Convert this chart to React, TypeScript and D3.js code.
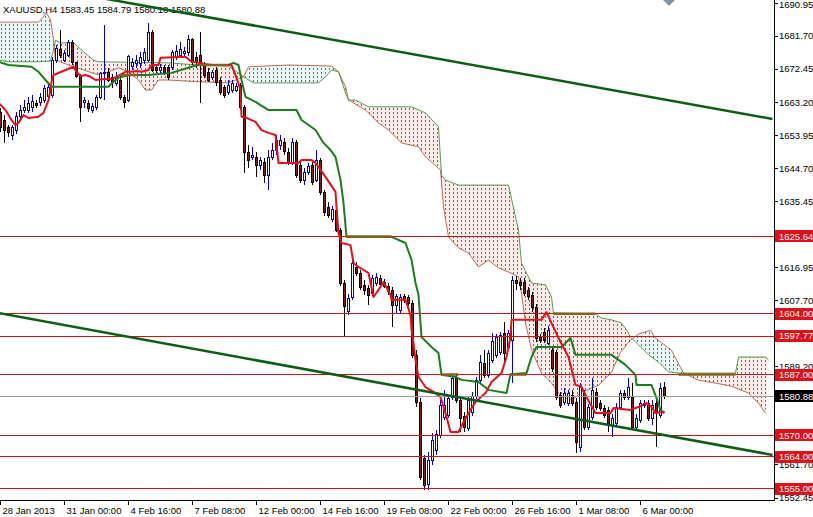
import React from "react";
import * as d3 from "d3";

const W = 813;
const H = 517;
const PLOT_R = 774;
const PLOT_B = 500;

const title = "XAUUSD,H4  1583.45 1584.79 1580.18 1580.88";

const candleOpen = [
  1660.2, 1658.2, 1656.0, 1654.0, 1655.4, 1659.3, 1661.0, 1661.0, 1661.6, 1662.7,
  1663.0, 1663.8, 1664.9, 1665.2, 1675.0, 1677.8, 1675.0, 1676.4, 1680.0, 1674.2,
  1670.5, 1663.0, 1662.7, 1661.0, 1661.6, 1664.6, 1671.1, 1671.6, 1670.0, 1668.3,
  1669.4, 1664.6, 1663.8, 1673.3, 1673.9, 1673.9, 1675.0, 1675.0, 1682.8, 1673.0,
  1672.2, 1672.8, 1673.0, 1673.0, 1675.8, 1676.4, 1676.7, 1677.0, 1680.6, 1675.8,
  1676.4, 1673.6, 1671.6, 1670.0, 1672.2, 1669.4, 1667.2, 1666.0, 1666.6, 1666.6,
  1668.0, 1661.8, 1649.2, 1647.6, 1647.8, 1645.6, 1646.4, 1642.8, 1647.8, 1649.8,
  1651.2, 1652.0, 1649.2, 1646.4, 1652.0, 1645.6, 1641.4, 1643.6, 1645.6, 1641.4,
  1647.0, 1637.8, 1633.8, 1630.5, 1633.0, 1627.4, 1612.6, 1604.7, 1608.6, 1617.0,
  1615.4, 1612.0, 1611.2, 1609.8, 1612.6, 1614.0, 1612.8, 1611.7, 1610.6, 1606.4,
  1605.0, 1608.9, 1608.6, 1607.0, 1592.4, 1579.2, 1563.6, 1556.3, 1563.0, 1565.8,
  1570.0, 1575.0, 1575.6, 1580.6, 1586.0, 1579.8, 1575.3, 1572.0, 1576.4, 1580.9,
  1585.4, 1590.2, 1586.8, 1591.0, 1592.4, 1593.2, 1598.6, 1594.6, 1596.6, 1613.4,
  1612.8, 1612.8, 1610.6, 1609.2, 1605.8, 1597.4, 1598.8, 1595.8, 1593.8, 1593.2,
  1581.2, 1579.2, 1579.0, 1581.2, 1579.2, 1566.6, 1581.8, 1572.2, 1575.0, 1582.0,
  1579.0, 1577.6, 1577.0, 1572.8, 1573.4, 1577.8, 1581.8, 1580.6, 1580.6, 1572.2,
  1574.2, 1578.4, 1579.0, 1574.8, 1579.0, 1575.6, 1583.45,
];
const candleHigh = [
  1661.6, 1659.6, 1656.8, 1656.8, 1660.4, 1662.4, 1663.8, 1664.6, 1665.2, 1663.8,
  1665.8, 1668.0, 1668.8, 1675.8, 1679.2, 1683.4, 1677.8, 1680.6, 1680.6, 1674.4,
  1671.1, 1664.6, 1663.8, 1663.0, 1665.2, 1671.6, 1684.8, 1672.8, 1671.1, 1671.6,
  1670.8, 1665.2, 1676.4, 1675.6, 1676.4, 1677.2, 1678.4, 1685.4, 1683.4, 1673.9,
  1673.9, 1673.6, 1673.6, 1677.8, 1679.2, 1680.0, 1678.6, 1682.0, 1681.2, 1677.2,
  1682.8, 1674.4, 1672.8, 1672.2, 1673.0, 1670.2, 1668.0, 1669.4, 1669.4, 1668.6,
  1668.6, 1662.4, 1651.2, 1650.6, 1649.2, 1647.8, 1647.6, 1649.8, 1651.8, 1654.0,
  1654.0, 1653.2, 1650.4, 1653.2, 1652.6, 1647.0, 1644.8, 1646.2, 1646.4, 1649.8,
  1647.6, 1638.6, 1635.2, 1634.1, 1633.8, 1628.0, 1613.4, 1609.5, 1619.0, 1618.4,
  1616.2, 1613.4, 1612.0, 1614.8, 1615.4, 1614.8, 1613.7, 1612.6, 1611.4, 1609.5,
  1609.5, 1609.5, 1609.2, 1607.8, 1593.8, 1580.4, 1564.4, 1565.2, 1570.6, 1571.4,
  1579.8, 1582.6, 1581.2, 1586.8, 1586.8, 1580.6, 1576.4, 1580.6, 1582.0, 1586.2,
  1592.4, 1593.8, 1593.8, 1598.6, 1598.3, 1598.8, 1601.6, 1599.4, 1614.5, 1614.5,
  1614.0, 1614.0, 1611.4, 1610.0, 1606.7, 1598.3, 1600.0, 1600.5, 1594.6, 1593.8,
  1582.0, 1583.2, 1582.6, 1582.6, 1580.4, 1584.6, 1582.6, 1578.7, 1586.0, 1583.2,
  1579.8, 1578.4, 1577.8, 1575.9, 1579.0, 1582.6, 1582.6, 1586.0, 1584.6, 1575.9,
  1579.8, 1579.8, 1579.8, 1579.8, 1579.8, 1584.6, 1584.79,
];
const candleLow = [
  1654.8, 1651.8, 1653.4, 1652.6, 1654.3, 1658.2, 1660.2, 1660.2, 1660.4, 1661.6,
  1662.1, 1663.0, 1664.4, 1664.4, 1674.2, 1675.6, 1674.4, 1675.8, 1673.6, 1670.0,
  1657.6, 1661.6, 1660.4, 1660.2, 1661.0, 1664.1, 1663.8, 1668.8, 1667.2, 1667.7,
  1663.8, 1661.6, 1663.2, 1672.2, 1672.8, 1672.8, 1673.9, 1674.4, 1671.6, 1671.4,
  1671.4, 1670.8, 1669.4, 1672.2, 1675.0, 1675.6, 1675.8, 1676.1, 1673.6, 1672.8,
  1663.0, 1670.0, 1668.8, 1669.4, 1667.7, 1665.2, 1664.4, 1665.2, 1665.8, 1666.0,
  1661.0, 1643.4, 1644.8, 1647.0, 1642.2, 1644.2, 1640.6, 1638.6, 1647.0, 1648.4,
  1649.8, 1648.4, 1645.6, 1645.6, 1642.0, 1640.6, 1640.0, 1642.8, 1640.0, 1640.8,
  1637.2, 1631.3, 1630.8, 1629.6, 1626.8, 1611.7, 1597.4, 1603.6, 1607.8, 1614.5,
  1610.6, 1609.2, 1606.4, 1608.9, 1611.7, 1611.4, 1611.2, 1609.2, 1600.2, 1604.2,
  1604.2, 1607.0, 1606.1, 1591.6, 1577.8, 1557.4, 1554.6, 1554.6, 1561.6, 1564.4,
  1569.2, 1574.2, 1574.8, 1579.8, 1579.0, 1570.8, 1570.8, 1571.1, 1575.3, 1580.1,
  1584.6, 1586.0, 1586.0, 1590.2, 1591.6, 1592.4, 1590.2, 1593.8, 1584.6, 1610.6,
  1610.6, 1608.9, 1607.8, 1604.4, 1596.0, 1595.8, 1595.8, 1595.2, 1587.6, 1579.8,
  1577.6, 1578.4, 1578.1, 1578.1, 1565.0, 1565.2, 1571.4, 1571.4, 1574.2, 1577.0,
  1576.7, 1574.8, 1570.8, 1569.4, 1572.5, 1577.0, 1579.8, 1579.8, 1571.4, 1571.4,
  1573.4, 1577.6, 1573.9, 1572.8, 1566.6, 1574.8, 1580.18,
];
const candleClose = [
  1656.0, 1655.4, 1654.8, 1656.0, 1659.3, 1661.0, 1661.8, 1662.7, 1663.5, 1662.4,
  1664.6, 1666.9, 1667.2, 1675.0, 1678.1, 1676.4, 1676.7, 1679.8, 1674.2, 1670.5,
  1661.8, 1663.8, 1661.3, 1662.1, 1664.6, 1671.1, 1671.6, 1669.4, 1668.8, 1670.2,
  1664.6, 1663.0, 1676.1, 1674.4, 1675.0, 1675.6, 1677.2, 1682.6, 1672.2, 1672.2,
  1672.8, 1671.6, 1670.2, 1677.0, 1677.5, 1677.8, 1677.5, 1680.6, 1674.4, 1674.2,
  1673.6, 1670.8, 1669.4, 1671.4, 1668.8, 1666.0, 1665.2, 1668.0, 1668.3, 1667.7,
  1661.8, 1649.0, 1647.0, 1648.4, 1645.6, 1647.0, 1642.8, 1647.8, 1649.8, 1652.6,
  1652.6, 1649.5, 1646.4, 1652.0, 1642.8, 1641.4, 1643.6, 1645.3, 1640.8, 1647.0,
  1637.8, 1632.4, 1631.6, 1633.3, 1627.4, 1612.6, 1606.1, 1608.4, 1618.2, 1615.4,
  1611.4, 1610.6, 1609.2, 1614.0, 1614.2, 1612.3, 1611.7, 1610.3, 1606.4, 1608.9,
  1608.6, 1607.8, 1607.0, 1592.4, 1579.2, 1558.2, 1556.0, 1563.0, 1568.6, 1570.3,
  1578.4, 1578.4, 1580.4, 1586.0, 1579.8, 1574.8, 1572.2, 1579.8, 1580.9, 1585.4,
  1590.4, 1586.8, 1593.0, 1596.3, 1597.4, 1598.0, 1593.0, 1598.6, 1613.4, 1612.6,
  1612.0, 1609.8, 1608.9, 1605.8, 1597.2, 1596.6, 1596.6, 1599.4, 1588.8, 1580.6,
  1578.4, 1581.8, 1581.8, 1579.0, 1568.0, 1583.4, 1572.2, 1577.8, 1582.6, 1577.8,
  1577.6, 1575.6, 1573.4, 1574.8, 1577.8, 1581.8, 1580.6, 1583.4, 1572.2, 1574.8,
  1579.0, 1579.0, 1574.8, 1578.4, 1576.4, 1583.2, 1580.88,
];

const tenkan = [
  [-0.5, 1663.0], [1.25, 1661.0], [2.75, 1658.2], [3.75, 1656.8], [4.5, 1657.4], [5.75, 1659.6], [7, 1658.8],
  [9.5, 1659.1], [10.75, 1660.2], [12, 1663.8], [12.5, 1666.6], [12.75, 1668.9], [13.25, 1670.8], [16.25, 1672.2],
  [18.25, 1673.1], [19, 1671.7], [20, 1670.5], [21.25, 1670.8], [22.5, 1670.3], [23.75, 1669.4], [26.25, 1669.7],
  [27.75, 1669.7], [29, 1670.3], [31.25, 1671.7], [32.5, 1671.7], [34, 1671.9], [35.25, 1671.7], [37, 1672.2],
  [37.75, 1673.6], [39.5, 1673.6], [40, 1675.6], [46.25, 1675.9], [47.75, 1674.5], [49.5, 1674.2], [52.75, 1673.6],
  [57.75, 1673.6], [58.75, 1670.8], [60, 1666.6], [60.25, 1659.1], [61.5, 1658.8], [63.75, 1657.7], [65.25, 1655.4],
  [67, 1654.6], [68.75, 1654.0], [69.5, 1646.2], [74.5, 1646.2], [75.25, 1647.0], [77.75, 1647.0], [78.75, 1646.2],
  [81.25, 1642.3], [83.75, 1638.1], [84, 1633.9], [84.5, 1626.6], [85.25, 1623.8], [87.5, 1623.2], [88.25, 1618.2],
  [89.5, 1617.1], [92, 1615.4], [93.25, 1608.7], [94.5, 1610.7], [95.75, 1612.9], [97.5, 1609.3], [97.75, 1607.9],
  [101.25, 1607.9], [102.5, 1603.7], [102.75, 1599.5], [103.25, 1595.8], [103.75, 1591.1], [104.5, 1586.3],
  [106.25, 1583.5], [108.75, 1581.8], [110, 1580.7], [111.25, 1576.2], [112.5, 1570.9], [114.5, 1570.9],
  [115.75, 1573.7], [117.5, 1577.1], [118.75, 1579.3], [121.25, 1581.8], [122.75, 1584.9], [125.25, 1587.4],
  [126.5, 1591.9], [127.5, 1597.5], [127.75, 1602.3], [135.25, 1602.3], [136.5, 1604.5], [137.75, 1601.4],
  [140, 1596.1], [142, 1591.9], [143.75, 1584.1], [145.25, 1583.5], [146.5, 1580.7], [148.75, 1576.2],
  [152.5, 1576.2], [153.25, 1577.6], [157.5, 1577.1], [159.5, 1577.9], [161.5, 1579.0], [162.75, 1577.9],
  [163.75, 1576.2], [166, 1576.5],
];

const kijun = [
  [-0.5, 1674.5], [2, 1673.6], [7.75, 1673.1], [9.5, 1671.7], [11.25, 1669.4], [12.75, 1667.5], [27, 1667.5],
  [28.25, 1668.9], [29.5, 1670.0], [32, 1670.8], [37, 1670.8], [42.75, 1671.4], [47.75, 1673.1], [49.5, 1673.6],
  [57, 1673.6], [58.25, 1674.2], [59.5, 1673.6], [60.25, 1669.4], [61.25, 1664.7], [63.75, 1663.3], [67, 1661.0],
  [74, 1661.0], [75.25, 1658.2], [78.75, 1655.4], [80.75, 1651.8], [82.5, 1649.8], [83.75, 1647.9], [85, 1641.4],
  [85.75, 1635.0], [86.5, 1625.5], [97.75, 1625.5], [101.25, 1623.8], [102.75, 1619.1], [103.75, 1612.6],
  [104.5, 1609.3], [105.25, 1597.5], [107.75, 1594.7], [109.5, 1593.0], [110.25, 1586.9], [113.75, 1586.3],
  [115.25, 1585.5], [119.5, 1584.9], [122, 1582.7], [126.5, 1581.8], [127.5, 1587.1], [131.5, 1587.4],
  [132.75, 1591.9], [134, 1594.7], [140.25, 1594.7], [142.5, 1597.2], [143.75, 1592.5], [152.75, 1592.5],
  [156.25, 1589.7], [158.75, 1586.9], [159, 1584.1], [162.75, 1584.1], [164, 1580.4], [165, 1577.1], [166, 1576.2],
];

const spanA = [
  [-0.5, 1685.6], [9.5, 1685.6], [10.5, 1686.8], [11.5, 1688.2], [12.5, 1686.2], [13.25, 1680.6], [13.75, 1675.0],
  [17, 1673.6], [20.75, 1672.2], [24.5, 1670.8], [27, 1671.7], [29.5, 1672.8], [32, 1671.7], [34.5, 1669.4],
  [36.25, 1666.6], [37.75, 1666.6], [39.5, 1669.4], [42, 1669.4], [49.5, 1668.9], [57, 1668.6], [60.75, 1670.3],
  [62, 1673.1], [72, 1673.6], [82.75, 1673.3], [84.5, 1671.7], [86.25, 1667.5], [87, 1663.8], [91.25, 1661.0],
  [94.5, 1657.4], [97, 1655.4], [100.25, 1651.8], [104.5, 1650.7], [106.25, 1647.9], [110, 1644.2],
  [110.75, 1633.9], [112, 1625.5], [114.5, 1622.4], [117, 1621.0], [119.5, 1617.1], [122, 1619.0],
  [124.5, 1616.8], [127, 1615.7], [129.5, 1614.3], [130.25, 1609.8], [131.25, 1601.4], [132.75, 1593.9],
  [135.25, 1587.4], [137.75, 1584.6], [140.25, 1580.7], [142.75, 1579.8], [145.25, 1582.0], [149.5, 1584.0],
  [152.75, 1587.6], [155, 1593.2], [157.5, 1596.6], [159.5, 1598.3], [162.5, 1599.4], [163.75, 1597.2],
  [167.75, 1593.8], [170.75, 1587.4], [174.5, 1585.4], [178.75, 1584.6], [182.75, 1583.7], [187, 1581.8],
  [189.5, 1579.0], [191.25, 1576.2],
];

const spanB = [
  [-0.5, 1675.0], [2, 1674.5], [9.5, 1674.5], [12.5, 1674.7], [13.25, 1677.8], [13.75, 1680.6], [15, 1679.8],
  [18.25, 1679.8], [20.75, 1677.3], [23.25, 1675.0], [24.5, 1674.5], [42, 1674.2], [49.5, 1673.6], [57, 1673.3],
  [60.75, 1670.3], [63.25, 1668.6], [79.5, 1668.6], [81.25, 1670.3], [82.75, 1672.2], [84.5, 1671.7],
  [86.25, 1665.8], [87, 1663.8], [88.75, 1663.8], [92, 1661.9], [102.75, 1661.9], [106.25, 1660.2],
  [109.5, 1656.3], [110.25, 1642.8], [111.25, 1641.4], [114.5, 1640.0], [127, 1640.0], [129.5, 1627.4],
  [130.25, 1618.2], [132.75, 1612.6], [136.25, 1612.1], [137.75, 1608.7], [138.25, 1604.2], [148.75, 1604.0],
  [150.25, 1602.8], [152.75, 1602.3], [155.25, 1601.4], [156.5, 1599.5], [157.5, 1597.5], [159.5, 1595.3],
  [162, 1592.5], [164.5, 1590.5], [167, 1587.7], [169.5, 1587.4], [183.75, 1587.4], [184.5, 1591.9],
  [191.25, 1591.9], [192, 1591.1],
];

const upperTrend = [[20, 1693.4], [193, 1658.5]];
const lowerTrend = [[-0.5, 1604.2], [193, 1564.5]];

// where the level lines run on top of the green lines (brownish overlap)
const overlapStart = [29.5, 49.5, 86.5, 110.25, 127.5, 138.25, 169.5];
const overlapEnd = [34.5, 57, 97.75, 114.5, 131.5, 148.75, 183.75];
const overlapPrice = [1670.8, 1673.6, 1625.64, 1587.0, 1587.0, 1604.0, 1587.0];

const levelPrices = [1625.64, 1604.0, 1597.77, 1587.0, 1570.0, 1564.0, 1555.0];
const levelLabels = ["1625.64", "1604.00", "1597.77", "1587.00", "1570.00", "1564.00", "1555.00"];
const bidPrice = 1580.88;
const bidLabel = "1580.88";

// all price ticks (marks) and the tick labels that are not covered by a level box
const yTickValues = [
  1690.95, 1681.7, 1672.45, 1663.2, 1653.95, 1644.7, 1635.45, 1626.2, 1616.95,
  1607.7, 1598.45, 1589.2, 1579.95, 1570.7, 1561.7, 1552.45,
];
const yTickLabelValues = [
  1690.95, 1681.7, 1672.45, 1663.2, 1653.95, 1644.7, 1635.45, 1616.95,
  1607.7, 1589.2, 1561.7, 1552.45,
];
const xTickBars = [0, 16, 32, 48, 64, 80, 96, 112, 128, 144, 160];
const xTickLabels = [
  "28 Jan 2013", "31 Jan 00:00", "4 Feb 16:00", "7 Feb 08:00", "12 Feb 00:00",
  "14 Feb 16:00", "19 Feb 08:00", "22 Feb 00:00", "26 Feb 16:00", "1 Mar 08:00", "6 Mar 00:00",
];

const FONT = "'Liberation Sans', Arial, sans-serif";

export default function App() {
  const x = d3.scaleLinear().domain([0, 1]).range([0.5, 4.5]);
  const y = d3.scaleLinear().domain([1552.45, 1690.95]).range([498, 3]);
  const line = d3.line<number[]>().x((d) => x(d[0])).y((d) => y(d[1]));
  const crisp = (v: number) => Math.round(v - 0.5) + 0.5;

  const n = candleOpen.length;
  const candles = d3.range(n).map((i) => ({
    i,
    o: candleOpen[i],
    h: candleHigh[i],
    l: candleLow[i],
    c: candleClose[i],
  }));

  const cloudPath = (line(spanA.concat(spanB.slice().reverse())) || "") + "Z";
  const bPts = spanB.map((d) => [x(d[0]), y(d[1])]);
  const bFirst = bPts[0];
  const bLast = bPts[bPts.length - 1];
  const bLine =
    `M-20,${bFirst[1]}` + bPts.map((p) => `L${p[0]},${p[1]}`).join("") + `L830,${bLast[1]}`;
  const aboveB = bLine + "L830,-20L-20,-20Z";
  const belowB = bLine + "L830,600L-20,600Z";

  const bull = "#0000c8";
  const bearFill = "#7d1d1d";

  return (
    <svg
      width={W}
      height={H}
      style={{ position: "absolute", left: 0, top: 0, background: "#fff" }}
      fontFamily={FONT}
    >
      <defs>
        <clipPath id="plotClip">
          <rect x={0} y={0} width={PLOT_R} height={PLOT_B} />
        </clipPath>
        <clipPath id="aboveBClip">
          <path d={aboveB} />
        </clipPath>
        <clipPath id="belowBClip">
          <path d={belowB} />
        </clipPath>
        <pattern id="redDots" x={0} y={0} width={4} height={4} patternUnits="userSpaceOnUse">
          <rect x={1} y={0} width={1} height={2} style={{ fill: "#d6442c" }} />
        </pattern>
        <pattern id="tealDots" x={0} y={0} width={4} height={4} patternUnits="userSpaceOnUse">
          <rect x={1} y={0} width={1} height={2} style={{ fill: "#1a9a9a" }} />
        </pattern>
      </defs>
      <rect x={0} y={0} width={W} height={H} fill="#ffffff" />

      <g clipPath="url(#plotClip)">
        {/* Ichimoku cloud */}
        <g clipPath="url(#aboveBClip)">
          <path d={cloudPath} fill="#2aa7a7" fillOpacity={0.09} fillRule="evenodd" />
          <path d={cloudPath} fill="url(#tealDots)" fillRule="evenodd" />
        </g>
        <g clipPath="url(#belowBClip)">
          <path d={cloudPath} fill="#e04a30" fillOpacity={0.1} fillRule="evenodd" />
          <path d={cloudPath} fill="url(#redDots)" fillRule="evenodd" />
        </g>
        <path d={line(spanA) || ""} fill="none" stroke="#b4553a" strokeWidth={1} opacity={0.85} />
        <path d={line(spanB) || ""} fill="none" stroke="#3f8a3a" strokeWidth={1} opacity={0.85} />

        {/* candles */}
        {candles.map((d) => {
          const cx = x(d.i);
          const up = d.c >= d.o;
          const top = crisp(y(Math.max(d.o, d.c)));
          const bot = crisp(y(Math.min(d.o, d.c)));
          return (
            <g key={d.i}>
              <line
                x1={cx}
                x2={cx}
                y1={Math.round(y(d.h))}
                y2={Math.round(y(d.l))}
                stroke={up ? bull : "#000"}
                strokeWidth={1}
              />
              {bot - top < 1 ? (
                <line x1={cx - 1.5} x2={cx + 1.5} y1={top} y2={top} stroke={up ? bull : "#000"} strokeWidth={1} />
              ) : (
                <rect
                  x={cx - 1}
                  y={top}
                  width={2}
                  height={bot - top}
                  fill={up ? "#ffffff" : bearFill}
                  stroke={up ? bull : "#000"}
                  strokeWidth={1}
                />
              )}
            </g>
          );
        })}

        {/* Tenkan / Kijun */}
        <path d={line(kijun) || ""} fill="none" stroke="#1b7d1b" strokeWidth={2} strokeLinejoin="round" />
        <path d={line(tenkan) || ""} fill="none" stroke="#e5101c" strokeWidth={2} strokeLinejoin="round" />

        {/* title */}
        <text x={3} y={13} fontSize={9.5} fill="#000">
          {title}
        </text>

        {/* horizontal levels */}
        {levelPrices.map((p, k) => (
          <line
            key={"lv" + k}
            x1={0}
            x2={PLOT_R}
            y1={crisp(y(p))}
            y2={crisp(y(p))}
            stroke="#cc1414"
            strokeWidth={1}
          />
        ))}
        <line x1={0} x2={PLOT_R} y1={crisp(y(bidPrice))} y2={crisp(y(bidPrice))} stroke="#9c9c9c" strokeWidth={1} />

        {/* overlap segments */}
        {overlapStart.map((s, k) => (
          <line
            key={"ov" + k}
            x1={x(s)}
            x2={x(overlapEnd[k])}
            y1={y(overlapPrice[k])}
            y2={y(overlapPrice[k])}
            stroke="#86601c"
            strokeWidth={2.5}
          />
        ))}

        {/* trend lines */}
        <path d={line(upperTrend) || ""} stroke="#0e5c14" strokeWidth={2.5} fill="none" />
        <path d={line(lowerTrend) || ""} stroke="#0e5c14" strokeWidth={2.5} fill="none" />

        {/* shift marker */}
        <polygon points="663,0 669,6 675,0" fill="#8494a4" />
      </g>

      {/* axes */}
      <line x1={PLOT_R + 0.5} x2={PLOT_R + 0.5} y1={0} y2={PLOT_B + 1} stroke="#000" />
      <line x1={0} x2={PLOT_R + 1} y1={PLOT_B + 0.5} y2={PLOT_B + 0.5} stroke="#000" />

      {yTickValues.map((v, k) => (
        <line key={"ym" + k} x1={PLOT_R} x2={PLOT_R + 4} y1={crisp(y(v))} y2={crisp(y(v))} stroke="#000" />
      ))}
      {yTickLabelValues.map((v, k) => (
        <text key={"yt" + k} x={779} y={Math.max(y(v), 5)} dy="0.35em" fontSize={9.5} fill="#000">
          {v.toFixed(2)}
        </text>
      ))}

      {xTickBars.map((b, k) => (
        <g key={"xt" + k}>
          <line x1={x(b)} x2={x(b)} y1={PLOT_B} y2={PLOT_B + 5} stroke="#000" />
          <text x={x(b) + 2} y={514} fontSize={9.5} fill="#000">
            {xTickLabels[k]}
          </text>
        </g>
      ))}

      {/* level price labels */}
      {levelPrices.map((p, k) => (
        <g key={"ll" + k}>
          <rect x={775} y={Math.round(y(p)) - 6} width={38} height={12} fill="#e01018" />
          <text x={779} y={y(p)} dy="0.35em" fontSize={9.5} fill="#fff">
            {levelLabels[k]}
          </text>
        </g>
      ))}
      <rect x={775} y={Math.round(y(bidPrice)) - 6} width={38} height={12} fill="#000" />
      <text x={779} y={y(bidPrice)} dy="0.35em" fontSize={9.5} fill="#fff">
        {bidLabel}
      </text>
    </svg>
  );
}
